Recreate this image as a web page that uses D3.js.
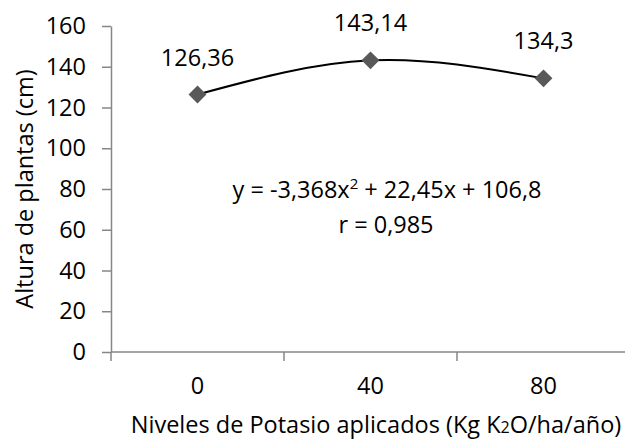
<!DOCTYPE html>
<html>
<head>
<meta charset="utf-8">
<script src="https://cdn.jsdelivr.net/npm/d3@7"></script>
<style>
  body { margin: 0; background: #fff; }
  text { font-family: "Open Sans", sans-serif; fill: #000; }
</style>
</head>
<body>
<div id="chart"></div>
<script>
// data
var niveles = ["0", "40", "80"];
var altura = [126.36, 143.14, 134.3];
var etiquetas = ["126,36", "143,14", "134,3"];
var yTicks = [0, 20, 40, 60, 80, 100, 120, 140, 160];

var width = 625, height = 439;
var fs = "23.5px";

var svg = d3.select("#chart")
  .append("svg")
  .attr("width", width)
  .attr("height", height);

// scales
var xScale = d3.scaleBand()
  .domain(niveles)
  .range([111, 630]);

var yScale = d3.scaleLinear()
  .domain([0, 160])
  .range([352, 26]);

// Y axis
var yAxis = svg.append("g")
  .attr("transform", "translate(111,0)")
  .call(d3.axisLeft(yScale).tickValues(yTicks).tickSize(9).tickPadding(16).tickSizeOuter(0));
yAxis.select(".domain").attr("stroke", "#868686").attr("stroke-width", 1.5);
yAxis.selectAll(".tick line").attr("stroke", "#868686").attr("stroke-width", 1.5);
yAxis.selectAll(".tick text")
  .style("font-family", "Open Sans")
  .style("font-size", fs)
  .attr("fill", "#000");

// X axis: ticks at band boundaries
var xAxis = svg.append("g")
  .attr("transform", "translate(0,352)");
xAxis.append("line")
  .attr("x1", 111).attr("x2", 630)
  .attr("stroke", "#868686").attr("stroke-width", 1.5);
var bounds = niveles.map(d => xScale(d)).concat([xScale(niveles[niveles.length - 1]) + xScale.bandwidth()]);
xAxis.selectAll(".xtick")
  .data(bounds)
  .enter().append("line")
  .attr("x1", d => d).attr("x2", d => d)
  .attr("y1", 0).attr("y2", 9)
  .attr("stroke", "#868686").attr("stroke-width", 1.5);
xAxis.selectAll(".xlab")
  .data(niveles)
  .enter().append("text")
  .attr("x", d => xScale(d) + xScale.bandwidth() / 2)
  .attr("y", 42)
  .attr("text-anchor", "middle")
  .style("font-size", fs)
  .text(d => d);

var cx = d => xScale(d) + xScale.bandwidth() / 2;
var puntos = niveles.map((d, i) => ({x: cx(d), y: yScale(altura[i])}));

// trend line (polynomial, drawn smooth through the points)
svg.append("path")
  .datum(puntos)
  .attr("fill", "none")
  .attr("stroke", "#000")
  .attr("stroke-width", 2)
  .attr("d", d3.line().x(d => d.x).y(d => d.y).curve(d3.curveNatural));

// markers
svg.selectAll(".punto")
  .data(puntos)
  .enter().append("path")
  .attr("d", d3.symbol(d3.symbolSquare, 160))
  .attr("transform", d => "translate(" + d.x + "," + d.y + ") rotate(45)")
  .attr("fill", "#595959");

// data labels
svg.selectAll(".etiqueta")
  .data(puntos)
  .enter().append("text")
  .attr("x", d => d.x)
  .attr("y", d => d.y - 29)
  .attr("text-anchor", "middle")
  .style("font-size", fs)
  .text((d, i) => etiquetas[i]);

// equation
var eq = svg.append("text")
  .attr("x", 387)
  .attr("y", 198)
  .attr("text-anchor", "middle")
  .style("font-size", fs);
eq.append("tspan").text("y = -3,368x");
eq.append("tspan").attr("dy", -9).style("font-size", "15px").text("2");
eq.append("tspan").attr("dy", 9).text(" + 22,45x + 106,8");

svg.append("text")
  .attr("x", 386)
  .attr("y", 233)
  .attr("text-anchor", "middle")
  .style("font-size", fs)
  .text("r = 0,985");

// axis titles
svg.append("text")
  .attr("transform", "translate(33,189) rotate(-90)")
  .attr("text-anchor", "middle")
  .style("font-size", fs)
  .text("Altura de plantas (cm)");

var xt = svg.append("text")
  .attr("x", 376)
  .attr("y", 433)
  .attr("text-anchor", "middle")
  .style("font-size", fs);
xt.append("tspan").text("Niveles de Potasio aplicados (Kg K");
xt.append("tspan").style("font-size", "16px").text("2");
xt.append("tspan").text("O/ha/año)");
</script>
</body>
</html>
